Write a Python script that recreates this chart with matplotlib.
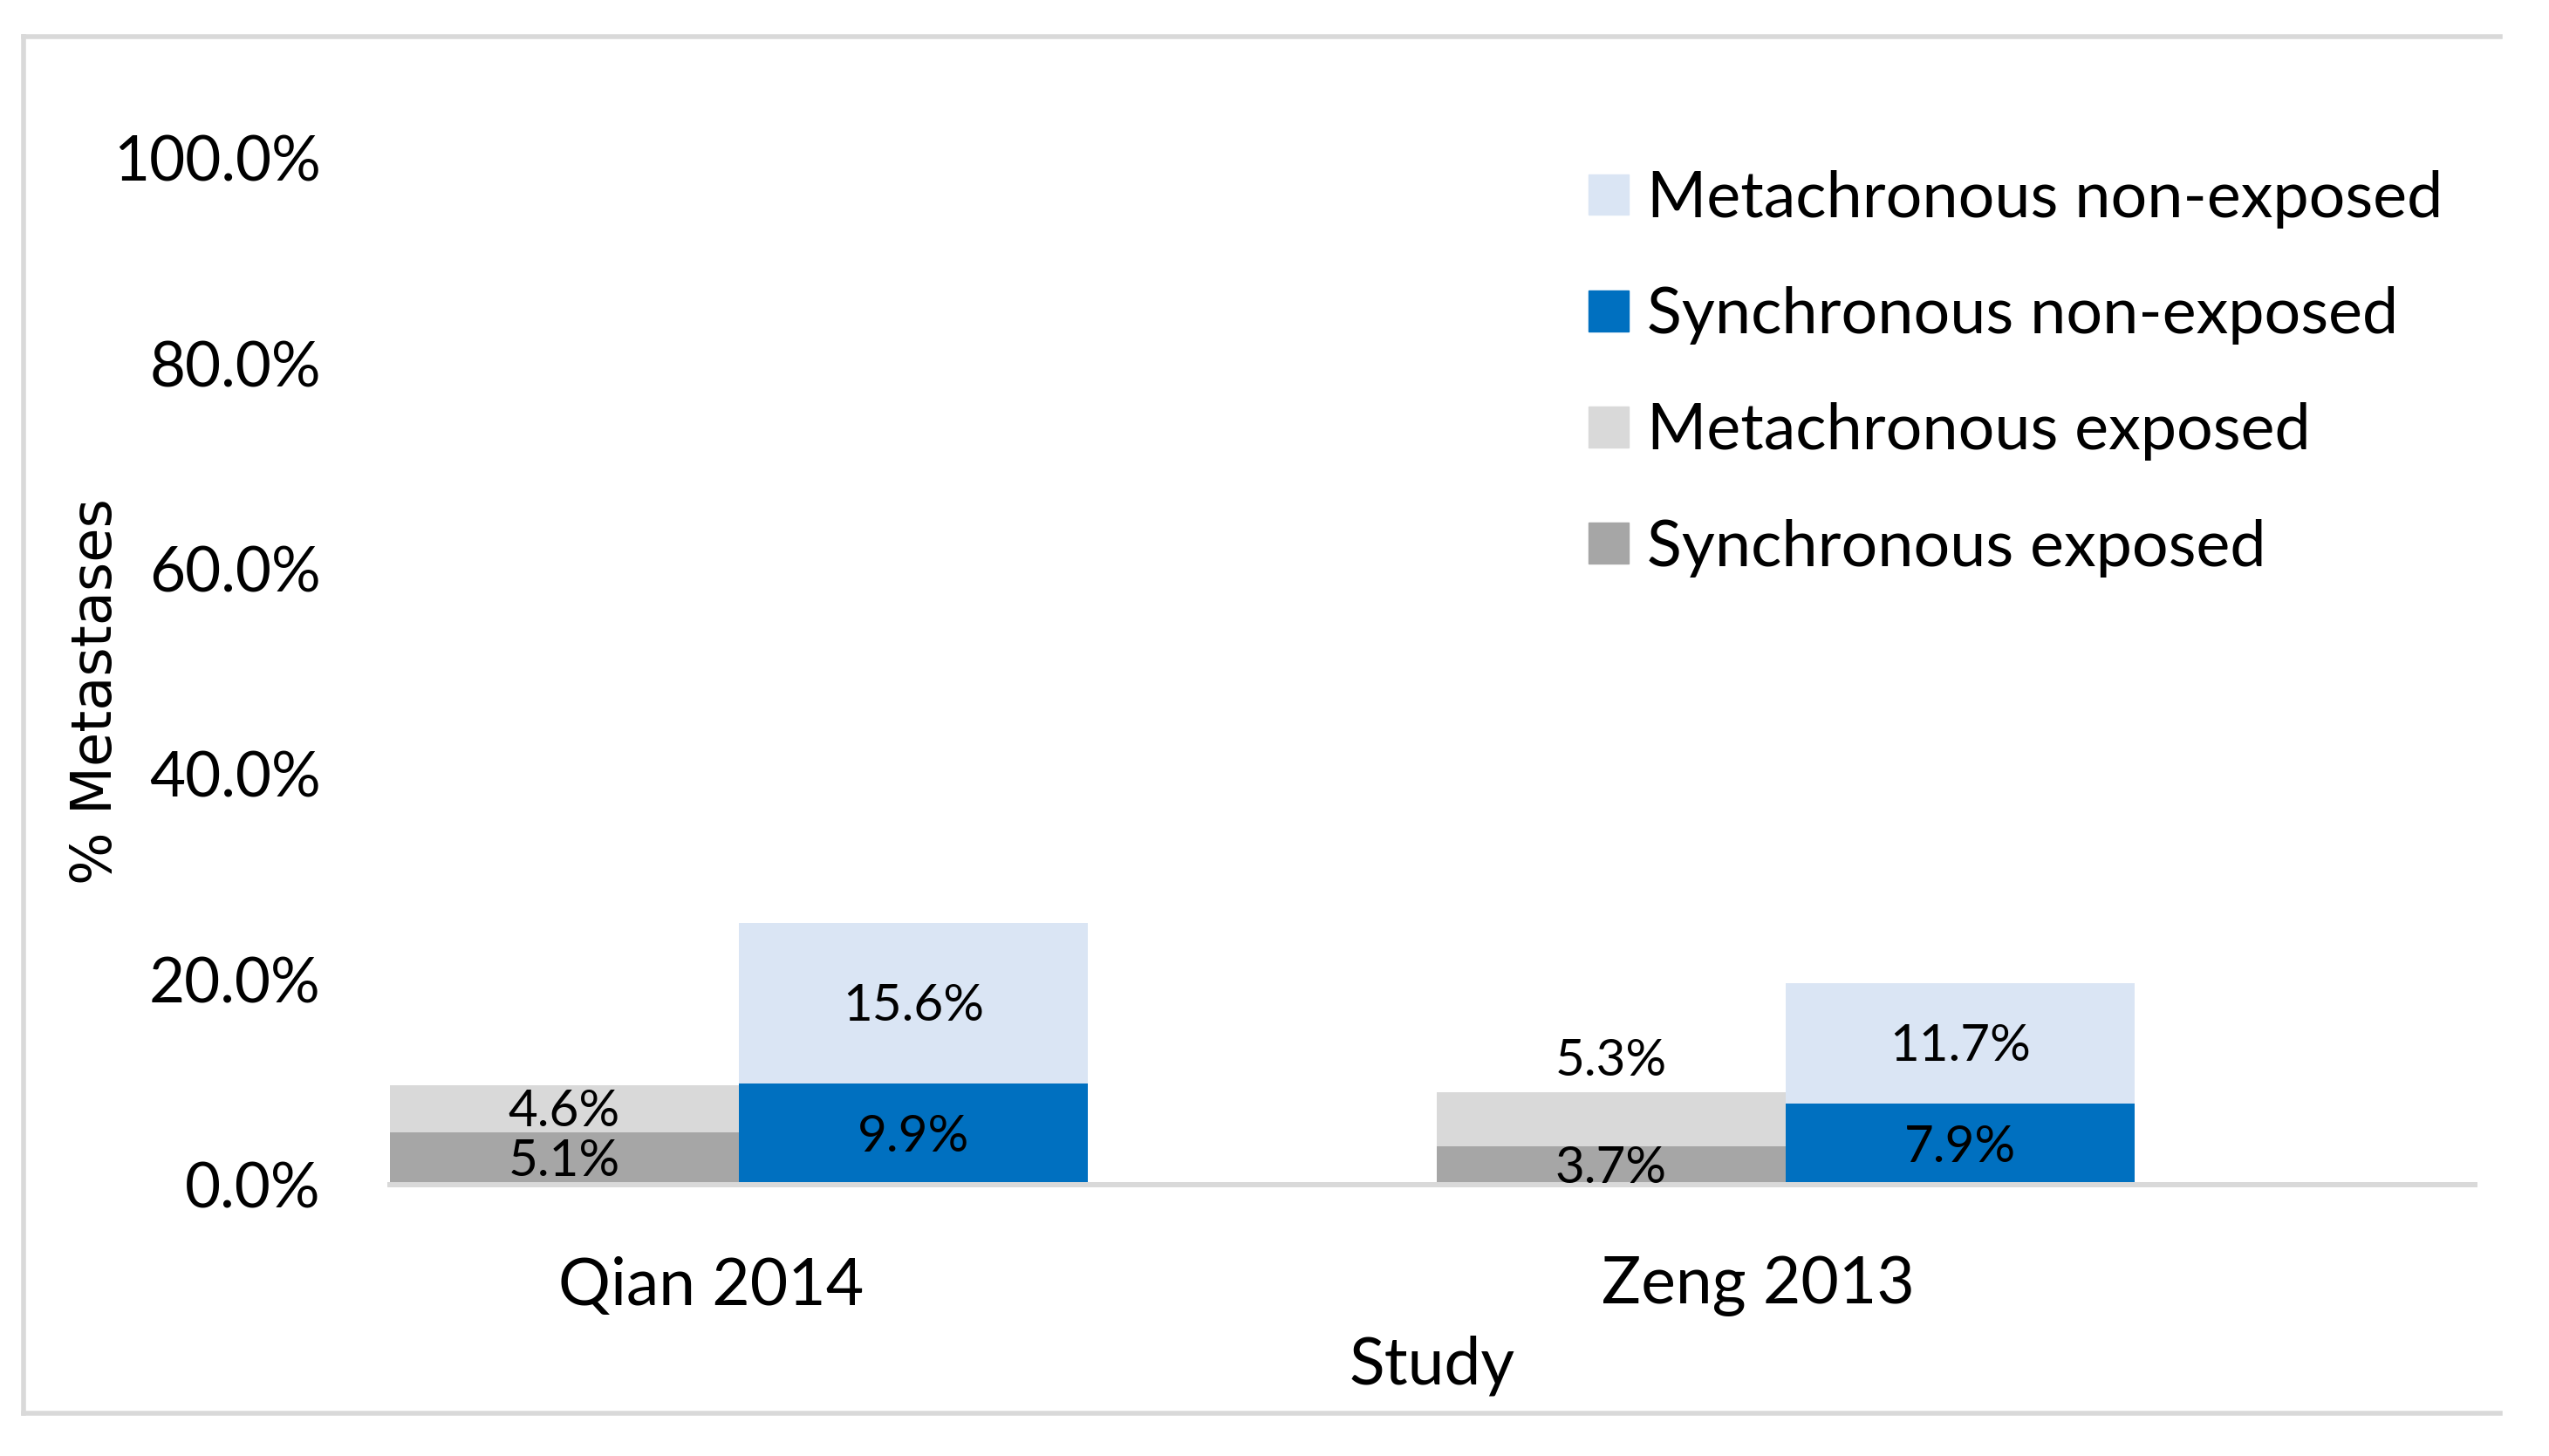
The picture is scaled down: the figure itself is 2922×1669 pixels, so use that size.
import numpy as np
import matplotlib
matplotlib.use("Agg")
import matplotlib.pyplot as plt
from matplotlib.lines import Line2D
from matplotlib.patches import Patch

# --- Data (percent) ---
studies = ["Qian 2014", "Zeng 2013"]
sync_exposed = [5.1, 3.7]
meta_exposed = [4.6, 5.3]
sync_nonexposed = [9.9, 7.9]
meta_nonexposed = [15.6, 11.7]
y_ticks = [0, 20, 40, 60, 80, 100]

# --- Colours ---
C_META_NON = "#DAE5F4"
C_SYNC_NON = "#0070C0"
C_META_EXP = "#D9D9D9"
C_SYNC_EXP = "#A6A6A6"
FRAME = "#D9D9D9"

W, H = 2922, 1669
fig = plt.figure(figsize=(W / 100, H / 100), dpi=100, facecolor="white")

# axes placed in pixel terms of the reference
left, right, bottom, top = 447, 2837, 1358, 181.5
ax = fig.add_axes([left / W, (H - bottom) / H, (right - left) / W, (bottom - top) / H])

FONT = "Lato"
x_exp = np.arange(len(studies)) * 3.0
x_non = x_exp + 1.0

ax.bar(x_exp, sync_exposed, width=1.0, color=C_SYNC_EXP, zorder=2)
ax.bar(x_exp, meta_exposed, width=1.0, bottom=sync_exposed, color=C_META_EXP, zorder=2)
ax.bar(x_non, sync_nonexposed, width=1.0, color=C_SYNC_NON, zorder=2)
ax.bar(x_non, meta_nonexposed, width=1.0, bottom=sync_nonexposed, color=C_META_NON, zorder=2)

# data labels (centered in segments)
lab_kw = dict(ha="center", va="center", fontsize=42, family=FONT, color="black", zorder=3)
for i in range(len(studies)):
    ax.text(x_exp[i], sync_exposed[i] / 2 - 0.3, f"{sync_exposed[i]:.1f}%", **lab_kw)
    y_me = sync_exposed[i] + meta_exposed[i] / 2 - 0.3
    if i == 1:
        # label sits above the short bar in the reference
        y_me = sync_exposed[i] + meta_exposed[i] + 3.0
    ax.text(x_exp[i], y_me, f"{meta_exposed[i]:.1f}%", **lab_kw)
    ax.text(x_non[i], sync_nonexposed[i] / 2 - 0.3, f"{sync_nonexposed[i]:.1f}%", **lab_kw)
    ax.text(x_non[i], sync_nonexposed[i] + meta_nonexposed[i] / 2 - 0.3,
            f"{meta_nonexposed[i]:.1f}%", **lab_kw)

ax.set_xlim(-0.5, 5.475)
ax.set_ylim(0, 100)
ax.set_yticks(y_ticks)
ax.set_yticklabels([f"{v:.1f}%" for v in y_ticks], family=FONT, fontsize=51)
ax.tick_params(axis="y", length=0, pad=57)

ax.set_xticks(x_exp + 0.42)
ax.set_xticklabels(studies, family=FONT, fontsize=54)
ax.tick_params(axis="x", length=0, pad=59)

for s in ["top", "right", "left"]:
    ax.spines[s].set_visible(False)
ax.spines["bottom"].set_color(FRAME)
ax.spines["bottom"].set_linewidth(4.3)

ax.set_xlabel("Study", family=FONT, fontsize=54, labelpad=15)
fig.text(110 / W, (H - 793) / H, "% Metastases", rotation=90, ha="center", va="center",
         fontsize=46, family="DejaVu Sans")

# legend (reverse stack order)
handles = [Patch(color=C_META_NON), Patch(color=C_SYNC_NON), Patch(color=C_META_EXP), Patch(color=C_SYNC_EXP)]
names = ["Metachronous non-exposed", "Synchronous non-exposed", "Metachronous exposed", "Synchronous exposed"]
ax.legend(handles, names, loc="upper left", bbox_to_anchor=(1821 / W, (H - 195) / H),
          bbox_transform=fig.transFigure, frameon=False, prop={"family": FONT, "size": 53},
          handlelength=0.62, handleheight=0.6, handletextpad=0.29, labelspacing=0.90,
          borderpad=0, borderaxespad=0)

# outer chart frame
lw = 4
fig.add_artist(Line2D([27 / W, 27 / W], [(H - 42) / H, (H - 1620) / H], color=FRAME, lw=lw))
fig.add_artist(Line2D([27 / W, 2866 / W], [(H - 42) / H, (H - 42) / H], color=FRAME, lw=lw))
fig.add_artist(Line2D([27 / W, 2866 / W], [(H - 1620) / H, (H - 1620) / H], color=FRAME, lw=lw))

fig.savefig("out.png", dpi=100, facecolor="white")
